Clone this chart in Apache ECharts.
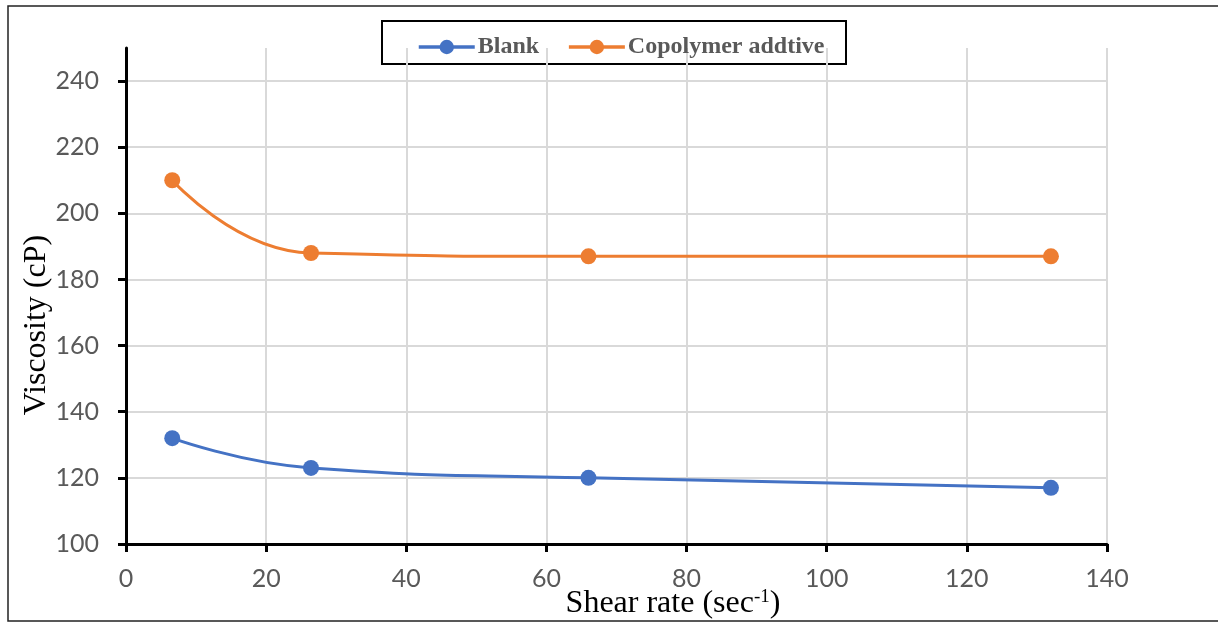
<!DOCTYPE html>
<html>
<head>
<meta charset="utf-8">
<script src="https://cdn.jsdelivr.net/npm/echarts@6/dist/echarts.min.js"></script>
<style>
  html, body { margin: 0; padding: 0; background: #fff; }
  #chart { width: 1218px; height: 623px; }
</style>
</head>
<body>
<div id="chart"></div>
<script>
// shear rate (sec-1) vs viscosity (cP)
const shearRate = [6.6, 26.4, 66, 132];
const blank = [132, 123, 120, 117];
const copolymer = [210, 188, 187, 187];
const xTicks = [0, 20, 40, 60, 80, 100, 120, 140];
const yTicks = [100, 120, 140, 160, 180, 200, 220, 240];

const pairs = (xs, ys) => xs.map((x, i) => [x, ys[i]]);

const chart = echarts.init(document.getElementById('chart'));

const labelStyle = {
	color: '#595959',
	fontFamily: 'Lato',
	fontSize: 25
};

const option = {
	backgroundColor: '#fff',
	animation: false,
	grid: { left: 126, right: 111, top: 48, bottom: 79 },
	graphic: [
		{
			type: 'rect',
			shape: { x: 8, y: 6, width: 1230, height: 615 },
			style: { fill: 'none', stroke: '#222', lineWidth: 1.5 },
			z: -1
		},
		{
			type: 'rect',
			shape: { x: 382, y: 21, width: 464, height: 43 },
			style: { fill: '#fff', stroke: '#000', lineWidth: 2 },
			z: 0
		},
		{
			// y axis title
			type: 'text',
			x: 37,
			y: 325,
			rotation: Math.PI / 2,
			style: {
				text: 'Viscosity (cP)',
				font: '32px "Liberation Serif"',
				fill: '#000',
				align: 'center',
				verticalAlign: 'middle'
			}
		},
		{
			// x axis title
			type: 'text',
			x: 673,
			y: 604,
			style: {
				text: '{a|Shear rate (sec}{s|-1}{a|)}',
				align: 'center',
				verticalAlign: 'middle',
				rich: {
					a: { font: '32px "Liberation Serif"', fill: '#000' },
					s: { font: '19px "Liberation Serif"', fill: '#000', verticalAlign: 'top', padding: [0, 0, 14, 0] }
				}
			}
		}
	],
	legend: {
		top: 30,
		left: 412,
		itemWidth: 56,
		itemHeight: 18,
		itemGap: 28,
		lineStyle: { width: 3.5 },
		textStyle: {
			color: '#595959',
			fontFamily: 'Liberation Serif',
			fontWeight: 'bold',
			fontSize: 24,
			padding: [0, 0, 0, -2]
		},
		z: 5
	},
	xAxis: {
		type: 'value',
		min: xTicks[0],
		max: xTicks[xTicks.length - 1],
		interval: 20,
		axisLine: { lineStyle: { color: '#000', width: 3 } },
		axisTick: { length: 8, lineStyle: { color: '#000', width: 3 } },
		axisLabel: Object.assign({ margin: 22 }, labelStyle),
		splitLine: { lineStyle: { color: '#d9d9d9', width: 2 } }
	},
	yAxis: {
		type: 'value',
		min: yTicks[0],
		max: 250,
		interval: 20,
		axisLine: { show: true, lineStyle: { color: '#000', width: 3 } },
		axisTick: { show: true, length: 8, lineStyle: { color: '#000', width: 3 } },
		axisLabel: Object.assign({ margin: 27, showMaxLabel: false,
			formatter: v => (yTicks.includes(v) ? String(v) : '') }, labelStyle),
		splitLine: { showMaxLine: false, lineStyle: { color: '#d9d9d9', width: 2 } }
	},
	series: [
		{
			name: 'Blank',
			type: 'line',
			smooth: 0.5,
			data: pairs(shearRate, blank),
			symbol: 'circle',
			symbolSize: 16,
			color: '#4472C4',
			lineStyle: { width: 3 }
		},
		{
			name: 'Copolymer addtive',
			type: 'line',
			smooth: 0.5,
			data: pairs(shearRate, copolymer),
			symbol: 'circle',
			symbolSize: 16,
			color: '#ED7D31',
			lineStyle: { width: 3 }
		}
	]
};

chart.setOption(option);
</script>
</body>
</html>
